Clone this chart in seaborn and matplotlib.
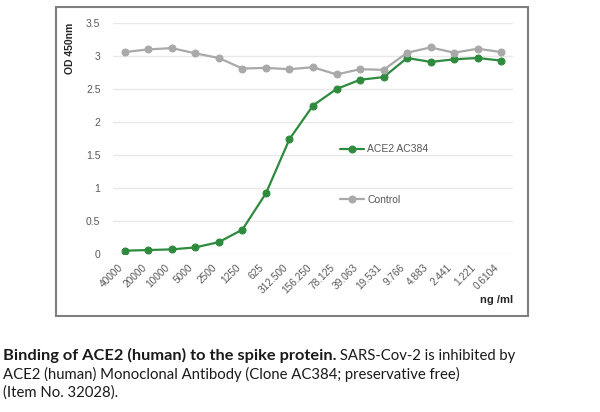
import pandas as pd
import matplotlib
matplotlib.use("Agg")
import matplotlib.pyplot as plt
from matplotlib.patches import Rectangle
import seaborn as sb

# DATA
# -----------------------------

conc_labels = ["40000", "20000", "10000", "5000", "2500", "1250", "625", "312.500",
               "156.250", "78.125", "39.063", "19.531", "9.766", "4.883", "2.441",
               "1.221", "0.6104"]
ace2_od = [0.05, 0.06, 0.07, 0.10, 0.18, 0.37, 0.92, 1.74, 2.25, 2.50, 2.64, 2.68,
           2.97, 2.91, 2.95, 2.97, 2.93]
control_od = [3.06, 3.10, 3.12, 3.04, 2.97, 2.81, 2.82, 2.80, 2.83, 2.72, 2.80, 2.79,
              3.05, 3.13, 3.05, 3.11, 3.06]
y_ticks = [0, 0.5, 1, 1.5, 2, 2.5, 3, 3.5]
y_tick_labels = ["0", "0.5", "1", "1.5", "2", "2.5", "3", "3.5"]

GREEN = "#2e8b3e"
GREY = "#a9a9a9"
TXT = "#595959"

# PLOT
# -----------------------------

def make_plot():
    sb.set_theme(style="white")
    plt.rcParams["font.family"] = ["Liberation Sans", "DejaVu Sans"]

    df = pd.DataFrame({"conc": conc_labels, "ace2": ace2_od, "control": control_od})
    df["pos"] = range(len(df))

    fig = plt.figure(figsize=(6, 4.12), dpi=100)
    W, H = 600, 412

    # outer frame of the chart
    fig.patches.append(Rectangle((56 / W, 1 - 316 / H), (528 - 56) / W, (316 - 7) / H,
                                 transform=fig.transFigure, fill=False,
                                 edgecolor="#7f7f7f", linewidth=1.5))

    ax = fig.add_axes([113 / W, 1 - 254 / H, 400 / W, (254 - 23) / H])

    sb.lineplot(data=df, x="pos", y="ace2", ax=ax, color=GREEN, marker="o",
                markersize=5, markeredgecolor=GREEN, linewidth=1.6, label="ACE2 AC384")
    sb.lineplot(data=df, x="pos", y="control", ax=ax, color=GREY, marker="o",
                markersize=5, markeredgecolor=GREY, linewidth=1.6, label="Control")

    ax.set_xlim(-0.5, len(conc_labels) - 0.5)
    ax.set_ylim(0, 3.5)
    ax.set_yticks(y_ticks)
    ax.set_yticklabels(y_tick_labels, fontsize=7.5, color=TXT)
    ax.set_xticks(df["pos"])
    ax.set_xticklabels(conc_labels, rotation=45, ha="right", fontsize=7.3, color=TXT)
    ax.tick_params(axis="both", length=0)
    ax.tick_params(axis="y", pad=9)
    ax.tick_params(axis="x", pad=6)
    for s in ax.spines.values():
        s.set_visible(False)
    ax.grid(axis="y", color="#e8e8e8", linewidth=1)
    ax.set_axisbelow(True)
    ax.set_xlabel("")
    ax.set_ylabel("")

    fig.text(70 / W, 1 - 48 / H, "OD 450nm", rotation=90, fontsize=7.5,
             fontweight="bold", ha="center", va="center")
    fig.text(513 / W, 1 - 300 / H, "ng /ml", fontsize=8, fontweight="bold",
             ha="right", va="center")

    ax.legend(loc="upper left", bbox_to_anchor=(0.5675, 0.475), frameon=False,
              fontsize=7.5, labelspacing=3.9, handlelength=2.3, handletextpad=0.3,
              borderpad=0, borderaxespad=0, labelcolor=TXT)

    # caption under the chart
    cap_font = ["Lato", "DejaVu Sans"]
    bold = fig.text(3 / W, 1 - 360 / H, "Binding of ACE2 (human) to the spike protein.",
                    fontsize=11.8, fontweight="bold", family=cap_font, va="baseline",
                    color="#1a1a1a")
    ax.annotate(" SARS-Cov-2 is inhibited by", xy=(1, 0), xycoords=bold,
                fontsize=10.7, family=cap_font, color="#1a1a1a", va="bottom", ha="left",
                annotation_clip=False)
    fig.text(3 / W, 1 - 379 / H,
             "ACE2 (human) Monoclonal Antibody (Clone AC384; preservative free)",
             fontsize=10.7, family=cap_font, va="baseline", color="#1a1a1a")
    fig.text(3 / W, 1 - 397 / H, "(Item No. 32028).",
             fontsize=10.7, family=cap_font, va="baseline", color="#1a1a1a")

    fig.savefig("out.png", dpi=100)


if __name__ == "__main__":
    make_plot()
